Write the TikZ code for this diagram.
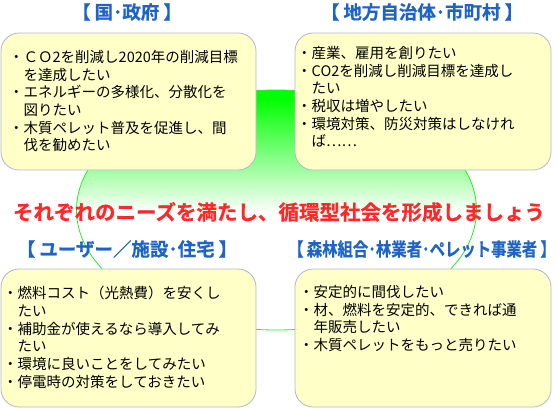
\documentclass[tikz,border=0pt]{standalone}
\usepackage{fontspec}
\newfontfamily\jp{Noto Sans CJK JP}
\newfontfamily\jpbold{Noto Sans CJK JP Bold}[FakeBold=0.6]
\definecolor{boxfill}{RGB}{255,255,200}
\definecolor{boxline}{RGB}{180,180,205}
\definecolor{headblue}{RGB}{30,100,200}
\definecolor{sloganred}{RGB}{255,40,40}
\definecolor{ringgreen}{RGB}{40,235,40}
\definecolor{vivid}{RGB}{0,255,0}
\newcommand\cont{\hspace*{1em}}
\newcommand\gap{\hspace{4pt}}
\tikzset{
  needbox/.style={draw=boxline, fill=boxfill, rounded corners=18pt, line width=0.8pt},
  head/.style={font=\jpbold\fontsize{18.5}{20}\selectfont, text=headblue, inner sep=0pt},
  needs/.style={font={\jp\fontsize{14.5}{17.7}\selectfont\lineskiplimit=-20pt\lineskip=0pt}, align=left, anchor=north west, inner sep=0pt},
  slogantext/.style={font=\jpbold\fontsize{20.5}{22}\selectfont, text=sloganred, inner sep=0pt}
}
\begin{document}
\begin{tikzpicture}[x=1pt,y=-1pt]
  \useasboundingbox (0,0) rectangle (557,408);
  % green ring behind the four boxes, fading from the top
  \begin{scope}
    \clip (276.5,210) ellipse [x radius=200, y radius=120];
    \foreach \i in {0,...,64} {
      \pgfmathtruncatemacro\pct{max(0,min(100,108-1.75*\i))}
      \fill [vivid!\pct!white] (70,89+2*\i) rectangle (480,91.5+2*\i);
    }
  \end{scope}
  \draw [ringgreen, line width=0.8pt] (276.5,210) ellipse [x radius=200, y radius=120];
  \draw [needbox] (1,33) rectangle (256,170);
  \draw [needbox] (295,33) rectangle (551,170);
  \draw [needbox] (1,269) rectangle (256,407);
  \draw [needbox] (295,269) rectangle (551,407);
  % headers
  \node [head] (govt) at (127,12) {【\gap 国･政府\gap 】};
  \node [head] (city) at (422,12) {【\gap 地方自治体･市町村\gap 】};
  \node [head] (user) at (127,249) {【\gap ユーザー／施設･住宅\gap 】};
  \node [head] (forest) at (422,249) {\scalebox{0.83}[1]{【\gap 森林組合･林業者･ペレット事業者\gap 】}};
  % needs of each side
  \node [needs] (govtneeds) at (9,50) {・ＣＯ2を削減し2020年の削減目標\\\cont を達成したい\\・エネルギーの多様化、分散化を\\\cont 図りたい\\・木質ペレット普及を促進し、間\\\cont 伐を勧めたい};
  \node [needs] (cityneeds) at (297,46) {・産業、雇用を創りたい\\・CO2を削減し削減目標を達成し\\\cont たい\\・税収は増やしたい\\・環境対策、防災対策はしなけれ\\\cont ば……};
  \node [needs] (userneeds) at (3,286) {・燃料コスト（光熱費）を安くし\\\cont たい\\・補助金が使えるなら導入してみ\\\cont たい\\・環境に良いことをしてみたい\\・停電時の対策をしておきたい};
  \node [needs] (forestneeds) at (299,285) {・安定的に間伐したい\\・材、燃料を安定的、できれば通\\\cont 年販売したい\\・木質ペレットをもっと売りたい};
  \node [slogantext] (slogan) at (279,212) {それぞれのニーズを満たし、循環型社会を形成しましょう};
\end{tikzpicture}
\end{document}
